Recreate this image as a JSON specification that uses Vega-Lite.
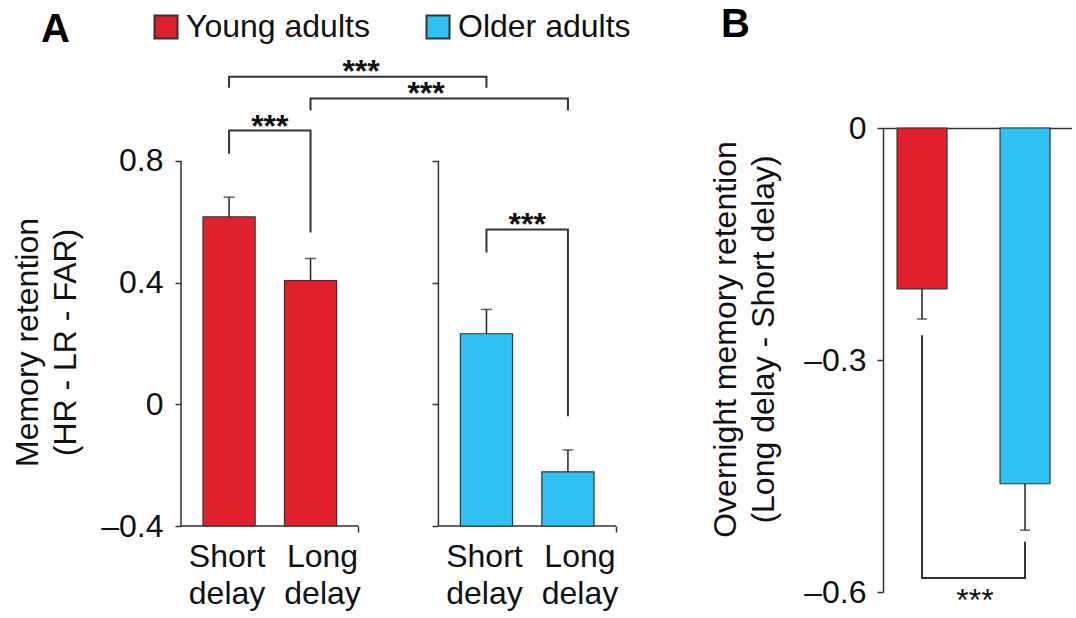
{
  "$schema": "https://vega.github.io/schema/vega-lite/v6.json",
  "padding": {"left": 11, "top": 5, "right": 0, "bottom": 0},
  "background": "white",
  "config": {
    "view": {"stroke": null},
    "font": "Liberation Sans",
    "axis": {"domainColor": "#333", "tickColor": "#333", "domainWidth": 1.5, "tickWidth": 1.5, "tickSize": 6, "labelFontSize": 32, "titleFontSize": 32, "labelColor": "#111", "titleColor": "#111", "titleFontWeight": "normal", "grid": false, "labelFont": "Liberation Sans", "titleFont": "Liberation Sans"},
    "title": {"font": "Liberation Sans", "fontSize": 40, "fontWeight": "bold", "color": "#000", "anchor": "start", "frame": "group"}
  },
  "datasets": {
    "retention": [
      {"group": "Young adults", "delay": "Short delay", "retention": 0.616, "upper": 0.681},
      {"group": "Young adults", "delay": "Long delay", "retention": 0.407, "upper": 0.479},
      {"group": "Older adults", "delay": "Short delay", "retention": 0.232, "upper": 0.312},
      {"group": "Older adults", "delay": "Long delay", "retention": -0.222, "upper": -0.150}
    ],
    "groupsA": [
      {"group": "Young adults"},
      {"group": "Older adults"}
    ],
    "bracketsA": [
      {"bracket": "b1", "group": "Young adults", "delay": "Short delay", "y": 1.041, "seq": 0},
      {"bracket": "b1", "group": "Young adults", "delay": "Short delay", "y": 1.077, "seq": 1},
      {"bracket": "b1", "group": "Older adults", "delay": "Short delay", "y": 1.077, "seq": 2},
      {"bracket": "b1", "group": "Older adults", "delay": "Short delay", "y": 1.041, "seq": 3},
      {"bracket": "b2", "group": "Young adults", "delay": "Long delay", "y": 0.966, "seq": 0},
      {"bracket": "b2", "group": "Young adults", "delay": "Long delay", "y": 1.005, "seq": 1},
      {"bracket": "b2", "group": "Older adults", "delay": "Long delay", "y": 1.005, "seq": 2},
      {"bracket": "b2", "group": "Older adults", "delay": "Long delay", "y": 0.966, "seq": 3},
      {"bracket": "b3", "group": "Young adults", "delay": "Short delay", "y": 0.824, "seq": 0},
      {"bracket": "b3", "group": "Young adults", "delay": "Short delay", "y": 0.900, "seq": 1},
      {"bracket": "b3", "group": "Young adults", "delay": "Long delay", "y": 0.900, "seq": 2},
      {"bracket": "b3", "group": "Young adults", "delay": "Long delay", "y": 0.565, "seq": 3},
      {"bracket": "b4", "group": "Older adults", "delay": "Short delay", "y": 0.499, "seq": 0},
      {"bracket": "b4", "group": "Older adults", "delay": "Short delay", "y": 0.575, "seq": 1},
      {"bracket": "b4", "group": "Older adults", "delay": "Long delay", "y": 0.575, "seq": 2},
      {"bracket": "b4", "group": "Older adults", "delay": "Long delay", "y": -0.039, "seq": 3}
    ],
    "starsA": [
      {"bracket": "b1", "group": "Young adults", "level": 1.077, "stars": "***"},
      {"bracket": "b2", "group": "Young adults", "level": 1.005, "stars": "***"},
      {"bracket": "b3", "group": "Young adults", "level": 0.900, "stars": "***"},
      {"bracket": "b4", "group": "Older adults", "level": 0.575, "stars": "***"}
    ],
    "overnight": [
      {"group": "Young adults", "diff": -0.208, "lower": -0.247},
      {"group": "Older adults", "diff": -0.460, "lower": -0.520}
    ],
    "bracketB": [
      {"group": "Young adults", "y": -0.268, "seq": 0},
      {"group": "Young adults", "y": -0.582, "seq": 1},
      {"group": "Older adults", "y": -0.582, "seq": 2},
      {"group": "Older adults", "y": -0.535, "seq": 3}
    ],
    "starsB": [
      {"group": "Young adults", "level": -0.582, "stars": "***"}
    ]
  },
  "resolve": {"scale": {"color": "independent"}},
  "spacing": 78,
  "hconcat": [
    {
      "width": 435,
      "height": 398,
      "title": {"text": "A", "dx": -140, "offset": -39},
      "resolve": {"axis": {"y": "independent"}},
      "layer": [
        {
          "data": {"name": "groupsA"},
          "mark": {"type": "bar", "filled": false, "stroke": "#333", "strokeWidth": 1.5},
          "encoding": {
            "x": {"field": "group", "type": "nominal", "scale": {"domain": ["Young adults", "Older adults"], "paddingInner": 0.31, "paddingOuter": 0}, "axis": {"orient": "bottom", "domain": false, "labels": false, "ticks": true, "tickSize": 6, "bandPosition": 1, "title": null}},
            "y": {"datum": -0.4, "type": "quantitative", "scale": {"domain": [-0.4, 0.9084], "nice": false, "zero": false}, "axis": null},
            "y2": {"datum": -0.4}
          }
        },
        {
          "data": {"name": "groupsA"},
          "mark": {"type": "rule", "stroke": "#333", "strokeWidth": 1.5},
          "encoding": {
            "x": {"field": "group", "type": "nominal", "bandPosition": 0},
            "y": {"datum": -0.4, "type": "quantitative", "axis": null},
            "y2": {"datum": 0.8}
          }
        },
        {
          "data": {"name": "retention"},
          "mark": {"type": "bar", "stroke": "#333", "strokeWidth": 1.2},
          "encoding": {
            "x": {"field": "group", "type": "nominal"},
            "xOffset": {"field": "delay", "type": "nominal", "scale": {"domain": ["Short delay", "Long delay"], "paddingInner": 0.36, "paddingOuter": 0.27}},
            "y": {"field": "retention", "type": "quantitative", "axis": {"domain": false, "values": [-0.4, 0, 0.4, 0.8], "labelExpr": "datum.value < 0 ? '–' + format(-datum.value, '.1f') : (datum.value == 0 ? '0' : format(datum.value, '.1f'))", "title": ["Memory retention", "(HR - LR - FAR)"], "titleLineHeight": 38, "labelPadding": 12, "titlePadding": 18, "titleY": 214}},
            "y2": {"datum": -0.4},
            "color": {"field": "group", "type": "nominal", "scale": {"domain": ["Young adults", "Older adults"], "range": ["#E0202A", "#2EC3F2"]}, "legend": {"orient": "none", "legendX": -31, "legendY": -117, "direction": "horizontal", "title": null, "symbolType": "square", "symbolSize": 529, "symbolStrokeColor": "#333", "symbolStrokeWidth": 2, "labelFontSize": 32, "labelFont": "Liberation Sans", "labelColor": "#111", "labelOffset": 4, "columnPadding": 52, "padding": 0, "labelLimit": 0}}
          }
        },
        {
          "data": {"name": "retention"},
          "mark": {"type": "rule", "stroke": "#222", "strokeWidth": 1.5},
          "encoding": {
            "x": {"field": "group", "type": "nominal"},
            "xOffset": {"field": "delay", "type": "nominal"},
            "y": {"field": "retention", "type": "quantitative", "axis": {"orient": "left", "offset": -257, "domain": false, "values": [-0.4, 0, 0.4, 0.8], "labels": false, "title": null}},
            "y2": {"field": "upper"}
          }
        },
        {
          "data": {"name": "retention"},
          "mark": {"type": "tick", "color": "#222", "thickness": 1.5, "size": 11},
          "encoding": {
            "x": {"field": "group", "type": "nominal"},
            "xOffset": {"field": "delay", "type": "nominal"},
            "y": {"field": "upper", "type": "quantitative", "axis": null}
          }
        },
        {
          "data": {"name": "bracketsA"},
          "mark": {"type": "line", "color": "#333", "strokeWidth": 2},
          "encoding": {
            "x": {"field": "group", "type": "nominal"},
            "xOffset": {"field": "delay", "type": "nominal"},
            "y": {"field": "y", "type": "quantitative", "axis": null},
            "detail": {"field": "bracket"},
            "order": {"field": "seq"}
          }
        },
        {
          "data": {"name": "starsA"},
          "transform": [{"filter": "datum.bracket == 'b1'"}],
          "mark": {"type": "text", "fontSize": 32, "fontWeight": "bold", "baseline": "alphabetic", "dy": 5, "color": "#111"},
          "encoding": {
            "x": {"field": "group", "type": "nominal", "bandPosition": 1.014},
            "y": {"field": "level", "type": "quantitative", "axis": null},
            "text": {"field": "stars"}
          }
        },
        {
          "data": {"name": "starsA"},
          "transform": [{"filter": "datum.bracket == 'b2'"}],
          "mark": {"type": "text", "fontSize": 32, "fontWeight": "bold", "baseline": "alphabetic", "dy": 5, "color": "#111"},
          "encoding": {
            "x": {"field": "group", "type": "nominal", "bandPosition": 1.38},
            "y": {"field": "level", "type": "quantitative", "axis": null},
            "text": {"field": "stars"}
          }
        },
        {
          "data": {"name": "starsA"},
          "transform": [{"filter": "datum.bracket == 'b3' || datum.bracket == 'b4'"}],
          "mark": {"type": "text", "fontSize": 32, "fontWeight": "bold", "baseline": "alphabetic", "dy": 6, "color": "#111"},
          "encoding": {
            "x": {"field": "group", "type": "nominal", "bandPosition": 0.5},
            "y": {"field": "level", "type": "quantitative", "axis": null},
            "text": {"field": "stars"}
          }
        },
        {
          "data": {"name": "retention"},
          "transform": [{"filter": "datum.delay == 'Short delay'"}],
          "mark": {"type": "text", "fontSize": 32, "lineBreak": " ", "lineHeight": 37, "baseline": "alphabetic", "dy": 41, "dx": -2, "color": "#111"},
          "encoding": {
            "x": {"field": "group", "type": "nominal"},
            "xOffset": {"field": "delay", "type": "nominal"},
            "y": {"datum": -0.4, "type": "quantitative", "axis": null},
            "text": {"field": "delay"}
          }
        },
        {
          "data": {"name": "retention"},
          "transform": [{"filter": "datum.delay == 'Long delay'"}],
          "mark": {"type": "text", "fontSize": 32, "lineBreak": " ", "lineHeight": 37, "baseline": "alphabetic", "dy": 41, "dx": 12, "color": "#111"},
          "encoding": {
            "x": {"field": "group", "type": "nominal"},
            "xOffset": {"field": "delay", "type": "nominal"},
            "y": {"datum": -0.4, "type": "quantitative", "axis": null},
            "text": {"field": "delay"}
          }
        }
      ]
    },
    {
      "width": 189,
      "height": 464,
      "title": {"text": "B", "dx": -162, "offset": 67},
      "layer": [
        {
          "data": {"name": "overnight"},
          "mark": {"type": "bar", "stroke": "#333", "strokeWidth": 1.2},
          "encoding": {
            "x": {"field": "group", "type": "nominal", "scale": {"domain": ["Young adults", "Older adults"], "paddingInner": 0.515, "paddingOuter": 0.175, "align": 0.39}, "axis": {"orient": "top", "labels": false, "ticks": false, "domain": true, "title": null}},
            "y": {"field": "diff", "type": "quantitative", "scale": {"domain": [-0.6, 0], "nice": false}, "axis": {"values": [0, -0.3, -0.6], "labelExpr": "datum.value < 0 ? '–' + format(-datum.value, '.1f') : (datum.value == 0 ? '0' : format(datum.value, '.1f'))", "title": ["Overnight memory retention", "(Long delay - Short delay)"], "titleLineHeight": 38, "labelPadding": 11, "titlePadding": 23, "titleY": 211}},
            "color": {"field": "group", "type": "nominal", "scale": {"domain": ["Young adults", "Older adults"], "range": ["#E0202A", "#2EC3F2"]}, "legend": null}
          }
        },
        {
          "data": {"name": "overnight"},
          "mark": {"type": "rule", "stroke": "#222", "strokeWidth": 1.5},
          "encoding": {
            "x": {"field": "group", "type": "nominal"},
            "y": {"field": "diff", "type": "quantitative"},
            "y2": {"field": "lower"}
          }
        },
        {
          "data": {"name": "overnight"},
          "mark": {"type": "tick", "color": "#222", "thickness": 1.5, "size": 10},
          "encoding": {
            "x": {"field": "group", "type": "nominal"},
            "y": {"field": "lower", "type": "quantitative"}
          }
        },
        {
          "data": {"name": "bracketB"},
          "mark": {"type": "line", "color": "#333", "strokeWidth": 2},
          "encoding": {
            "x": {"field": "group", "type": "nominal"},
            "y": {"field": "y", "type": "quantitative"},
            "order": {"field": "seq"}
          }
        },
        {
          "data": {"name": "starsB"},
          "mark": {"type": "text", "fontSize": 32, "baseline": "alphabetic", "dy": 33, "color": "#111"},
          "encoding": {
            "x": {"field": "group", "type": "nominal", "bandPosition": 1.56},
            "y": {"field": "level", "type": "quantitative"},
            "text": {"field": "stars"}
          }
        }
      ]
    }
  ]
}
